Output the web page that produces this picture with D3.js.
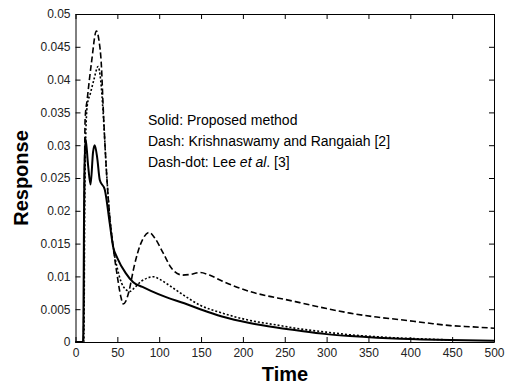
<!DOCTYPE html>
<html>
<head>
<meta charset="utf-8">
<script src="https://cdn.jsdelivr.net/npm/d3@7"></script>
<style>
  body { margin: 0; background: #fff; }
  text { font-family: Arial, "Liberation Sans", sans-serif; }
</style>
</head>
<body>
<div id="chart"></div>
<script>
// Solid: proposed method
const solidT = [0, 9, 9.5, 10, 10.5, 12, 15, 18, 21, 23, 26, 29, 35, 41, 45, 50, 60, 69, 80, 90, 109, 130, 149, 175, 208, 240, 268, 300, 328, 360, 388, 448, 500]
const solidY = [0, 0, 0.004, 0.015, 0.025, 0.031, 0.027, 0.024, 0.029, 0.030, 0.028, 0.0247, 0.0232, 0.018, 0.0145, 0.0128, 0.0105, 0.0091, 0.0084, 0.0078, 0.0068, 0.0059, 0.0050, 0.0039, 0.0029, 0.0022, 0.0017, 0.0012, 0.0009, 0.00065, 0.0005, 0.0003, 0.0002]

// Dash: Krishnaswamy and Rangaiah
const dashT = [0, 9.5, 10.5, 11.5, 14, 19, 25, 28, 31, 33, 37, 41, 45, 50, 54, 57, 60, 64, 70, 78, 88, 95, 105, 115, 128, 137, 149, 160, 175, 190, 208, 230, 250, 268, 300, 328, 360, 388, 420, 448, 475, 500]
const dashY = [0, 0, 0.02, 0.034, 0.037, 0.0425, 0.0474, 0.046, 0.042, 0.036, 0.026, 0.019, 0.0145, 0.01, 0.007, 0.0058, 0.0062, 0.0078, 0.0115, 0.015, 0.0167, 0.0158, 0.0135, 0.0112, 0.0102, 0.0103, 0.0106, 0.0102, 0.0093, 0.0085, 0.0077, 0.0070, 0.0065, 0.0060, 0.0051, 0.0044, 0.0038, 0.0034, 0.0029, 0.0025, 0.0023, 0.0021]

// Dash-dot: Lee et al.
const dotT = [0, 10, 11, 12, 14, 18, 22, 27, 30, 33, 37, 41, 45, 50, 55, 60, 65, 70, 78, 85, 93, 100, 110, 125, 149, 173, 208, 240, 268, 300, 328, 360, 388, 420, 450]
const dotY = [0, 0, 0.02, 0.03, 0.036, 0.038, 0.040, 0.042, 0.040, 0.035, 0.026, 0.019, 0.0145, 0.0112, 0.009, 0.008, 0.0077, 0.0082, 0.0092, 0.0097, 0.00995, 0.0096, 0.0088, 0.0075, 0.0056, 0.0045, 0.0033, 0.0026, 0.0020, 0.0015, 0.0011, 0.0008, 0.0006, 0.00045, 0.0003]

const xTicks = d3.range(0, 501, 50)
const yTicks = d3.range(0, 0.0501, 0.005)
const legendLines = [
  [{ t: 'Solid: Proposed method' }],
  [{ t: 'Dash: Krishnaswamy and Rangaiah [2]' }],
  [{ t: 'Dash-dot: Lee ' }, { t: 'et al', i: true }, { t: '. [3]' }]
]

const width = 509, height = 384
const margin = { top: 14, right: 15, bottom: 42, left: 75.5 }

const x = d3.scaleLinear().domain([0, 500]).range([margin.left, width - margin.right])
const y = d3.scaleLinear().domain([0, 0.05]).range([height - margin.bottom, margin.top])

const svg = d3.select('#chart')
  .append('svg')
  .attr('width', width)
  .attr('height', height)

// Box with inward ticks on all four sides
const tickLen = 5
svg.append('g')
  .attr('transform', `translate(0,${y(0)})`)
  .call(d3.axisBottom(x).tickValues(xTicks).tickSizeInner(-tickLen).tickSizeOuter(0).tickPadding(6))
  .call(g => g.selectAll('.tick text').attr('font-size', 12).attr('fill', '#222'))
svg.append('g')
  .attr('transform', `translate(0,${y(0.05)})`)
  .call(d3.axisTop(x).tickValues(xTicks).tickSizeInner(-tickLen).tickSizeOuter(0).tickFormat(''))
svg.append('g')
  .attr('transform', `translate(${x(0)},0)`)
  .call(d3.axisLeft(y).tickValues(yTicks).tickSizeInner(-tickLen).tickSizeOuter(0).tickPadding(5)
    .tickFormat(d => +d.toFixed(3) + ''))
  .call(g => g.selectAll('.tick text').attr('font-size', 12).attr('fill', '#222'))
svg.append('g')
  .attr('transform', `translate(${x(500)},0)`)
  .call(d3.axisRight(y).tickValues(yTicks).tickSizeInner(-tickLen).tickSizeOuter(0).tickFormat(''))
svg.selectAll('.domain').attr('stroke', '#000')

// Curves
const line = d3.line().x(d => x(d[0])).y(d => y(d[1])).curve(d3.curveMonotoneX)
const series = [
  { t: solidT, v: solidY, dash: null, w: 2 },
  { t: dashT, v: dashY, dash: '6,3', w: 1.6 },
  { t: dotT, v: dotY, dash: '2,2', w: 1.6 }
]
series.forEach(s => {
  svg.append('path')
    .datum(s.t.map((t, i) => [t, s.v[i]]))
    .attr('fill', 'none')
    .attr('stroke', '#000')
    .attr('stroke-width', s.w)
    .attr('stroke-dasharray', s.dash)
    .attr('d', line)
})

// Legend text
const leg = svg.append('g')
legendLines.forEach((parts, i) => {
  const txt = leg.append('text')
    .attr('x', 148)
    .attr('y', 125 + i * 21)
    .attr('font-size', 14)
    .attr('fill', '#000')
  parts.forEach(p => txt.append('tspan').attr('font-style', p.i ? 'italic' : null).text(p.t))
})

// Axis titles
svg.append('text')
  .attr('x', 285)
  .attr('y', 381)
  .attr('text-anchor', 'middle')
  .attr('font-size', 20)
  .attr('font-weight', 'bold')
  .text('Time')
svg.append('text')
  .attr('transform', `translate(28,${(margin.top + height - margin.bottom) / 2}) rotate(-90)`)
  .attr('text-anchor', 'middle')
  .attr('font-size', 20)
  .attr('font-weight', 'bold')
  .text('Response')
</script>
</body>
</html>
